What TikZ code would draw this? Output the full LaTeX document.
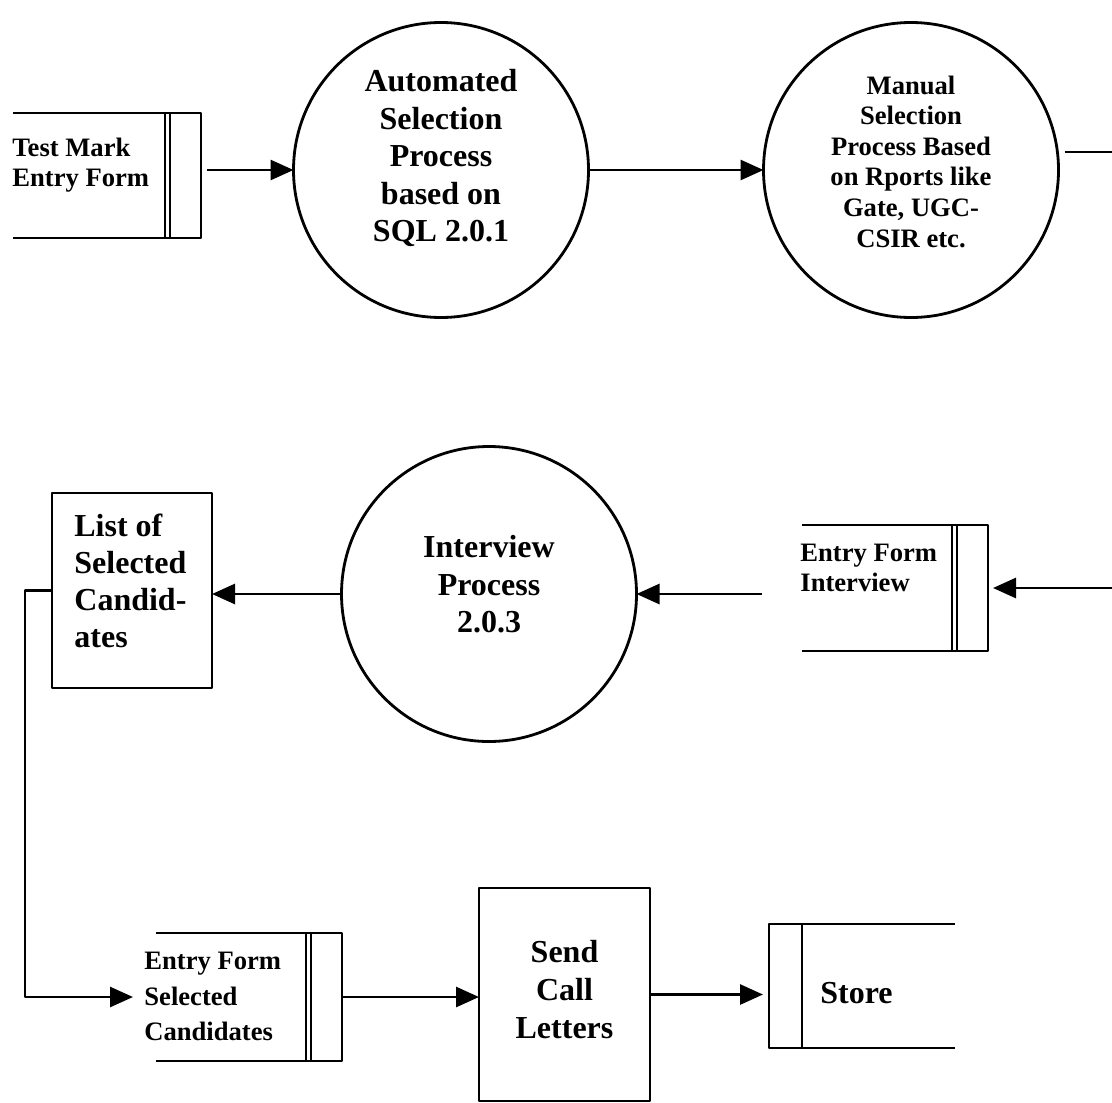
\documentclass[tikz,border=0pt]{standalone}
\usepackage{fontspec}
\setmainfont{Liberation Serif}
\usetikzlibrary{arrows.meta}

\tikzset{
  flow/.style={-{Triangle[length=11.5pt,width=10pt]}, line width=1.4pt},
  proc/.style={circle, draw, line width=1.4pt, minimum size=147.5pt, inner sep=0pt, outer sep=0pt},
  procbox/.style={rectangle, draw, line width=1.2pt, inner sep=0pt, outer sep=0pt},
  dstore/.style={rectangle, minimum width=93pt, minimum height=63pt, inner sep=0pt, outer sep=0pt},
  bigtxt/.style={font=\fontsize{16}{18.75}\selectfont\bfseries, inner sep=0pt},
  smalltxt/.style={font=\fontsize{13.3}{15}\selectfont\bfseries, inner sep=0pt}
}

\begin{document}
\begin{tikzpicture}[x=0.5pt, y=-0.5pt, line join=round]
    \useasboundingbox (0,0) rectangle (1112,1102);

    % processus (cercles)
    \node[proc] (autosel) at (441,170) {};
    \node[proc] (mansel) at (911,170) {};
    \node[proc] (intv) at (489,594) {};
    \node[bigtxt, align=center] (autosel-t) at ([yshift=6pt]autosel.center) {Automated\\Selection\\Process\\based on\\SQL 2.0.1};
    \node[smalltxt, align=center, font=\fontsize{13.3}{15.3}\selectfont\bfseries] (mansel-t) at ([yshift=4.25pt]mansel.center) {Manual\\Selection\\Process Based\\on Rports like\\Gate, UGC-\\CSIR etc.};
    \node[bigtxt, align=center] (intv-t) at ([yshift=4.75pt]intv.center) {Interview\\Process\\2.0.3};

    % boites
    \node[procbox, minimum width=80pt, minimum height=97.5pt] (selist) at (132,590.5) {};
    \node[bigtxt, align=left, anchor=west, font=\fontsize{16}{18.6}\selectfont\bfseries] (selist-t) at ([xshift=11pt,yshift=4.75pt]selist.west) {List of\\Selected\\Candid-\\ates};
    \node[procbox, minimum width=85.5pt, minimum height=106.5pt] (send) at (564.5,994.5) {};
    \node[bigtxt, align=center, font=\fontsize{16}{19}\selectfont\bfseries] (send-t) at ([yshift=2.25pt]send.center) {Send\\Call\\Letters};

    % stockages
    \node[dstore, minimum width=94pt, minimum height=62.5pt] (tmform) at (107,175.5) {};
    \node[dstore] (intform) at (895,588) {};
    \node[dstore, minimum height=64pt] (selform) at (249,997) {};
    \node[dstore, minimum height=62pt] (store) at (862,986) {};
    \node[smalltxt, align=left, anchor=west] (tmform-t) at (12,165) {Test Mark\\Entry Form};
    \node[smalltxt, align=left, anchor=west] (intform-t) at (800,568) {Entry Form\\Interview};
    \node[smalltxt, align=left, anchor=west, font=\fontsize{13.3}{17.75}\selectfont\bfseries] (selform-t) at (144,996.5) {Entry Form\\Selected\\Candidates};
    \node[bigtxt, anchor=west] (store-t) at (820,993) {Store};

    % traits des stockages (double trait a droite)
    \foreach \s in {tmform, intform, selform} {
        \draw[line width=1.2pt] (\s.north west) -- (\s.north east) -- (\s.south east) -- (\s.south west);
        \draw[line width=1.2pt] ([xshift=-18pt]\s.north east) -- ([xshift=-18pt]\s.south east);
        \draw[line width=1.2pt] ([xshift=-15.5pt]\s.north east) -- ([xshift=-15.5pt]\s.south east);
    }
    \draw[line width=1.2pt] (store.north east) -- (store.north west) -- (store.south west) -- (store.south east);
    \draw[line width=1.2pt] ([xshift=16.5pt]store.north west) -- ([xshift=16.5pt]store.south west);

    % flux
    \coordinate (outR) at (1112,152);
    \coordinate (inR) at (1112,588);
    \draw[flow] ([xshift=3pt]tmform.east |- autosel) -- (autosel);
    \draw[flow] (autosel) -- (mansel);
    \draw[line width=1.4pt] ([xshift=3pt]outR -| mansel.east) -- (outR);
    \draw[flow] (inR) -- ([xshift=2.5pt]inR -| intform.east);
    \draw[flow] ([xshift=-20pt]intform.west |- intv) -- (intv);
    \draw[flow] (intv) -- (intv -| selist.east);
    \draw[flow] (selist.west) -- ++(-13.5pt,0) |- ([xshift=-11.5pt]selform.west);
    \draw[flow] (selform.east) -- (selform.east -| send.west);
    \draw[flow] (send.east) -- ([xshift=-3pt]send.east -| store.west);
\end{tikzpicture}
\end{document}
